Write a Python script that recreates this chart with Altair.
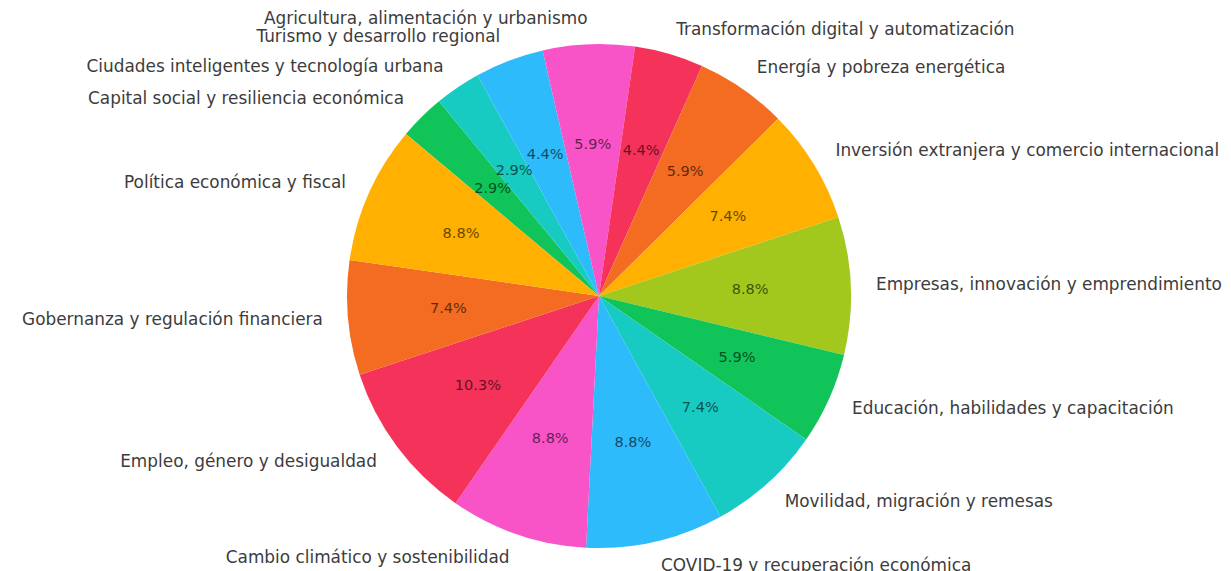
import math
import altair as alt
import pandas as pd

# Slices listed clockwise, starting at the boundary 50 degrees left of 12 o'clock
labels = [
    "Capital social y resiliencia económica",
    "Ciudades inteligentes y tecnología urbana",
    "Turismo y desarrollo regional",
    "Agricultura, alimentación y urbanismo",
    "Transformación digital y automatización",
    "Energía y pobreza energética",
    "Inversión extranjera y comercio internacional",
    "Empresas, innovación y emprendimiento",
    "Educación, habilidades y capacitación",
    "Movilidad, migración y remesas",
    "COVID-19 y recuperación económica",
    "Cambio climático y sostenibilidad",
    "Empleo, género y desigualdad",
    "Gobernanza y regulación financiera",
    "Política económica y fiscal",
]
counts = [2, 2, 3, 4, 3, 4, 5, 6, 4, 5, 6, 6, 7, 5, 6]
colors = [
    "#10c45a", "#17cbc3", "#2ebbfb", "#f953c8", "#f5325a",
    "#f36c21", "#ffb000", "#a2c81e", "#10c45a", "#17cbc3",
    "#2ebbfb", "#f953c8", "#f5325a", "#f36c21", "#ffb000",
]

df = pd.DataFrame({"label": labels, "count": counts, "idx": list(range(len(labels)))})

START = math.radians(-50)
theta_scale = alt.Scale(domain=[0, sum(counts)], range=[START, START + 2 * math.pi])
color_scale = alt.Scale(domain=labels, range=colors)

CX, CY, R = 591, 288, 252
LBL_SIZE = 16.9
LBL_COLOR = "#3c3c3c"

base = alt.Chart(df).transform_window(
    cum="sum(count)", sort=[alt.SortField("idx")], frame=[None, 0]
).transform_joinaggregate(total="sum(count)").transform_calculate(
    start="datum.cum - datum.count",
    mid="datum.cum - datum.count / 2",
    ang=f"{START} + (datum.cum - datum.count / 2) / datum.total * 2 * PI",
    pct="format(datum.count / datum.total * 100, '.1f') + '%'",
)

arcs = base.mark_arc(radius=R, stroke=None).encode(
    theta=alt.Theta("start:Q", scale=theta_scale),
    theta2="cum:Q",
    color=alt.Color("label:N", scale=color_scale, legend=None),
    x=alt.value(CX),
    y=alt.value(CY),
)

pct = base.mark_text(radius=R * 0.6, font="DejaVu Sans", fontSize=14.5,
                     color="#000000", opacity=0.6,
                     baseline="middle", align="center").encode(
    theta=alt.Theta("mid:Q", scale=theta_scale),
    text="pct:N",
    x=alt.value(CX),
    y=alt.value(CY),
)

right_lbl = base.transform_filter("sin(datum.ang) > 0").mark_text(
    radius=R * 1.1, font="DejaVu Sans", fontSize=LBL_SIZE, color=LBL_COLOR,
    baseline="middle", align="left").encode(
    theta=alt.Theta("mid:Q", scale=theta_scale),
    text="label:N",
    x=alt.value(CX),
    y=alt.value(CY),
)

left_lbl = base.transform_filter("sin(datum.ang) <= 0").mark_text(
    radius=R * 1.1, font="DejaVu Sans", fontSize=LBL_SIZE, color=LBL_COLOR,
    baseline="middle", align="right").encode(
    theta=alt.Theta("mid:Q", scale=theta_scale),
    text="label:N",
    x=alt.value(CX),
    y=alt.value(CY),
)

chart = alt.layer(arcs, pct, right_lbl, left_lbl).properties(
    width=1215, height=563, padding=0,
    autosize=alt.AutoSizeParams(type="none"),
).configure_view(stroke=None)

chart.save("out.html", embed_options={"renderer": "svg", "actions": False})
